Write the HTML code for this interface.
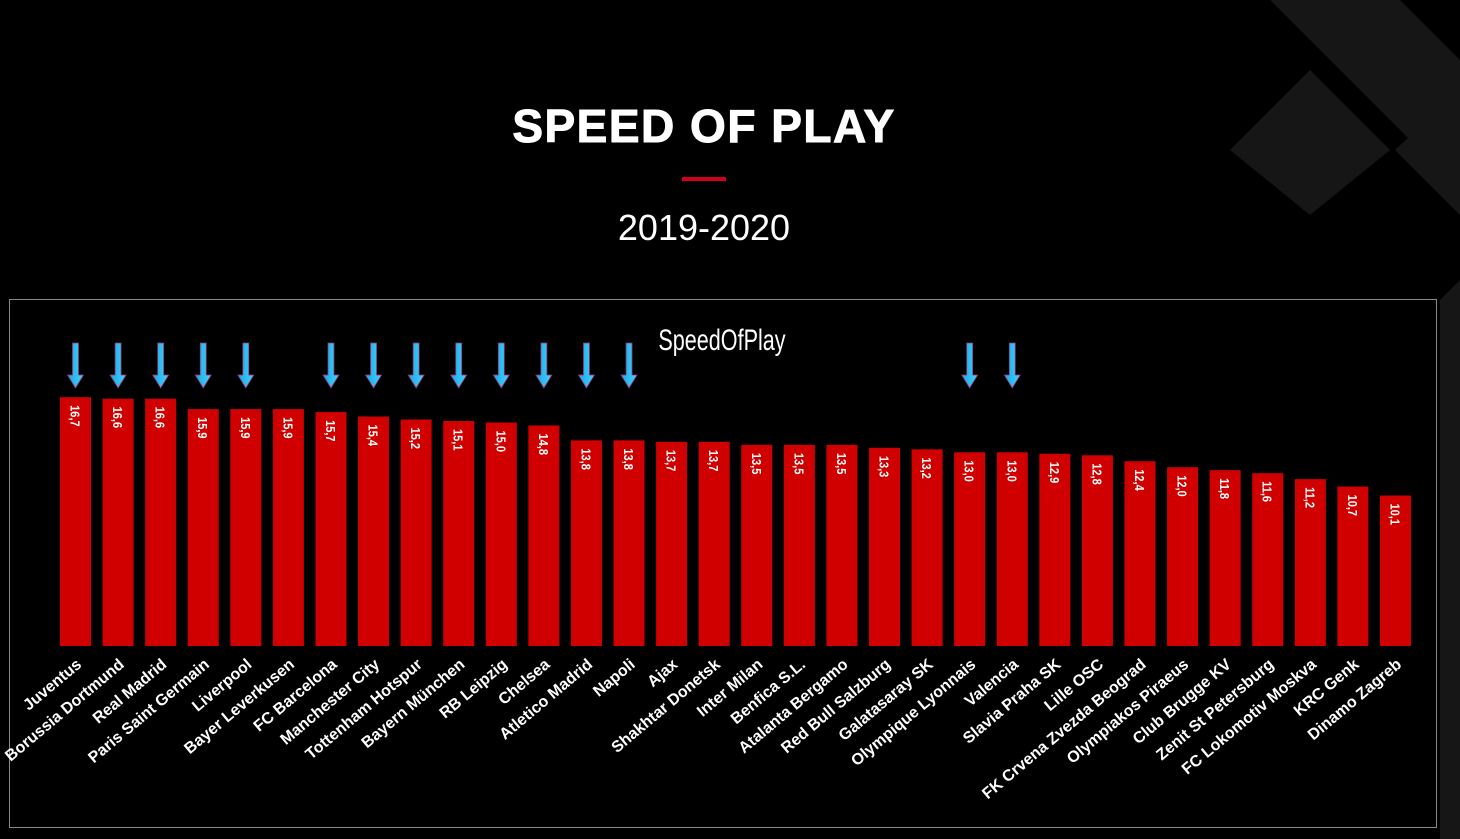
<!DOCTYPE html>
<html><head><meta charset="utf-8"><style>
html,body{margin:0;padding:0;background:#000;width:1460px;height:839px;overflow:hidden;font-family:"Liberation Sans",sans-serif}
</style></head><body>
<svg width="1460" height="839" xmlns="http://www.w3.org/2000/svg">
<defs><linearGradient id="ag" x1="0" y1="0" x2="1" y2="0"><stop offset="0" stop-color="#1aa7e8"/><stop offset="1" stop-color="#3fd4ff"/></linearGradient></defs>
<rect width="1460" height="839" fill="#000"/>
<g fill="#161616">
<polygon points="1270,0 1400,0 1460,60 1460,190 1310,40"/>
<polygon points="1230,150 1310,70 1390,150 1310,215"/>
<polygon points="1395,150 1460,90 1460,215"/>
<polygon points="1440,300 1460,280 1460,839 1440,839"/>
</g>
<text x="704" y="142" text-anchor="middle" fill="#fff" font-size="46" font-weight="bold" letter-spacing="1.5" stroke="#fff" stroke-width="1">SPEED OF PLAY</text>
<rect x="682" y="177" width="44" height="4" fill="#d0021b"/>
<text x="704" y="240" text-anchor="middle" fill="#fff" font-size="36">2019-2020</text>
<rect x="9.5" y="299.5" width="1427" height="528" fill="#000" stroke="#888" stroke-width="1"/>
<text x="722" y="350" text-anchor="middle" fill="#fff" font-size="30" transform="translate(722 0) scale(0.72 1) translate(-722 0)">SpeedOfPlay</text>
<g id="bars"></g>
</svg>
<script>
const teams=["Juventus","Borussia Dortmund","Real Madrid","Paris Saint Germain","Liverpool","Bayer Leverkusen","FC Barcelona","Manchester City","Tottenham Hotspur","Bayern München","RB Leipzig","Chelsea","Atletico Madrid","Napoli","Ajax","Shakhtar Donetsk","Inter Milan","Benfica S.L.","Atalanta Bergamo","Red Bull Salzburg","Galatasaray SK","Olympique Lyonnais","Valencia","Slavia Praha SK","Lille OSC","FK Crvena Zvezda Beograd","Olympiakos Piraeus","Club Brugge KV","Zenit St Petersburg","FC Lokomotiv Moskva","KRC Genk","Dinamo Zagreb"];
const values=[16.7,16.6,16.6,15.9,15.9,15.9,15.7,15.4,15.2,15.1,15.0,14.8,13.8,13.8,13.7,13.7,13.5,13.5,13.5,13.3,13.2,13.0,13.0,12.9,12.8,12.4,12.0,11.8,11.6,11.2,10.7,10.1];
const arrowed=[1,1,1,1,1,0,1,1,1,1,1,1,1,1,0,0,0,0,0,0,0,1,1,0,0,0,0,0,0,0,0,0];
const NS="http://www.w3.org/2000/svg";
const g=document.getElementById('bars');
const base=646, k=14.9, x0=60, step=42.58, bw=31;
const xs=i=>x0+i*step, ys=v=>base-v*k;
function mk(t,a){const e=document.createElementNS(NS,t);for(const n in a)e.setAttribute(n,a[n]);return e;}
teams.forEach((t,i)=>{
 const x=xs(i), y=ys(values[i]), cx=x+bw/2;
 const r=mk('rect',{x:x,y:y,width:bw,height:base-y,fill:'#d00000'});
 
 
 g.appendChild(r);
 const vl=mk('text',{x:0,y:0,fill:'#fff','font-size':'13','font-weight':'bold','text-anchor':'start',transform:`translate(${cx-5},${y+8}) rotate(90) scale(0.85 1)`});
 vl.textContent=values[i].toFixed(1).replace('.',',');
 
 
 g.appendChild(vl);
 const tl=mk('text',{x:0,y:0,fill:'#fff','font-size':'16','font-weight':'bold','text-anchor':'end',transform:`translate(${cx+7},${666}) rotate(-40)`});
 tl.textContent=t;
 
 
 g.appendChild(tl);
 if(arrowed[i]){
  const a=mk('path',{d:`M${cx-3},343 h6 v32 h5 l-8,13 l-8,-13 h5 z`,fill:'url(#ag)',stroke:'#a0306a','stroke-width':'0.8'});
  
  
  g.appendChild(a);
 }
});
</script>
</body></html>
